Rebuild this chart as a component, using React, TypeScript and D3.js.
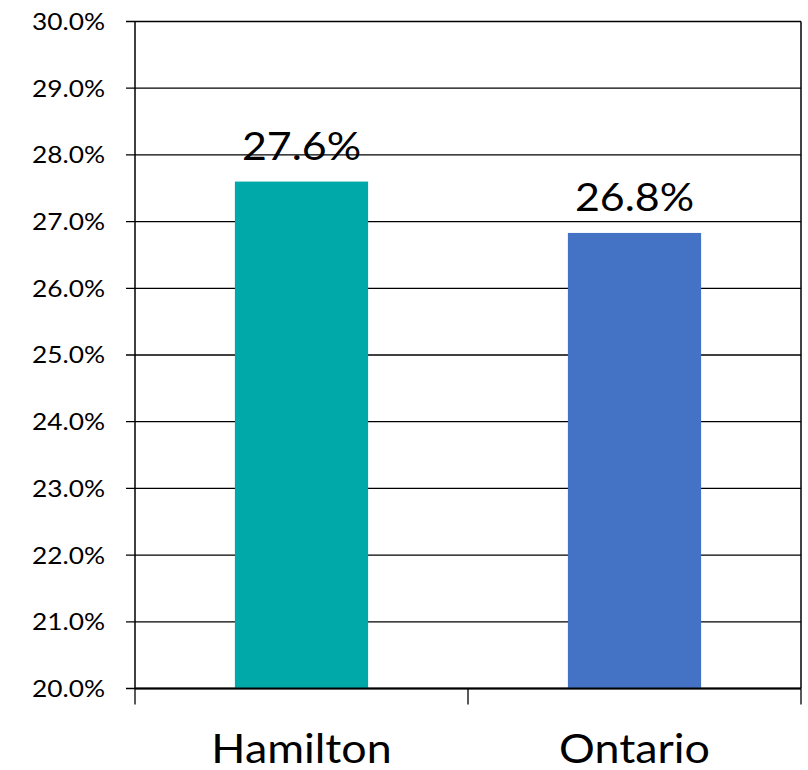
import React from 'react'
import * as d3 from 'd3'

const categories = ['Hamilton', 'Ontario']
const values = [27.6, 26.83]
const valueLabels = ['27.6%', '26.8%']
const barColors = ['#00A9A9', '#4472C4']
const yTicks = [20, 21, 22, 23, 24, 25, 26, 27, 28, 29, 30]

const width = 808
const height = 770
const margin = { top: 21.5, right: 7, bottom: 81.5, left: 135 }
const font = 'Lato, "Open Sans", sans-serif'

// the original text is a little wider than Lato, stretch it sideways
const Stretch = ({ x, y, k, children }: { x: number, y: number, k: number, children: React.ReactNode }) => (
  <g transform={`translate(${x}, ${y}) scale(${k}, 1)`}>{children}</g>
)

export default function App () {
  const innerW = width - margin.left - margin.right
  const innerH = height - margin.top - margin.bottom

  const x = d3.scaleBand().domain(categories).range([0, innerW]).paddingInner(0.6).paddingOuter(0.3)
  const band = d3.scaleBand().domain(categories).range([0, innerW])
  const y = d3.scaleLinear().domain([20, 30]).range([innerH, 0])

  return (
    <svg width={width} height={height} style={{ position: 'absolute', left: 0, top: 0 }}>
      <g transform={`translate(${margin.left}, ${margin.top})`}>
        {yTicks.map(t => (
          <g key={t}>
            <line x1={-9} x2={innerW} y1={y(t)} y2={y(t)} stroke='#000' strokeWidth={1.3} />
            <Stretch x={-30} y={y(t)} k={1.12}>
              <text dy='0.36em' textAnchor='end' fontFamily={font} fontSize={23.5} fill='#000'>
                {t.toFixed(1)}%
              </text>
            </Stretch>
          </g>
        ))}
        {categories.map((c, i) => (
          <g key={c}>
            <rect x={x(c)} y={y(values[i])} width={x.bandwidth()} height={innerH - y(values[i])} fill={barColors[i]} />
            <Stretch x={x(c)! + x.bandwidth() / 2} y={y(values[i]) - 22} k={1.1}>
              <text textAnchor='middle' fontFamily={font} fontSize={39} fill='#000'>
                {valueLabels[i]}
              </text>
            </Stretch>
            <Stretch x={band(c)! + band.bandwidth() / 2} y={innerH + 74} k={1.12}>
              <text textAnchor='middle' fontFamily={font} fontSize={40} fill='#000'>
                {c}
              </text>
            </Stretch>
          </g>
        ))}
        {[0, 1, 2].map(k => (
          <line key={k} x1={k * band.bandwidth()} x2={k * band.bandwidth()} y1={innerH} y2={innerH + 16} stroke='#000' strokeWidth={1.3} />
        ))}
        <line x1={0} x2={0} y1={0} y2={innerH} stroke='#000' strokeWidth={1.5} />
        <line x1={innerW} x2={innerW} y1={0} y2={innerH} stroke='#000' strokeWidth={1.5} />
        <line x1={0} x2={innerW} y1={innerH} y2={innerH} stroke='#000' strokeWidth={2.2} />
      </g>
    </svg>
  )
}
